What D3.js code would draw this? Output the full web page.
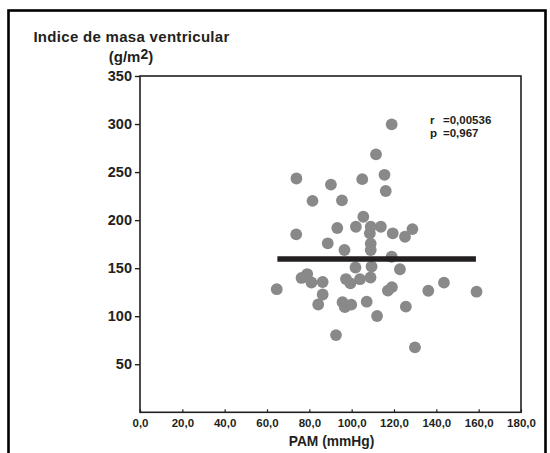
<!DOCTYPE html>
<html>
<head>
<meta charset="utf-8">
<script src="https://cdn.jsdelivr.net/npm/d3@7"></script>
<style>
	html, body { margin: 0; padding: 0; background: #fff; }
	svg { display: block; font-family: 'Liberation Sans', Arial, sans-serif; }
	.axis text { font-family: 'Liberation Sans', Arial, sans-serif; font-weight: bold; fill: #231f20; }
	.axis line, .axis path { stroke: #231f20; }
</style>
</head>
<body>
<div id="chart"></div>
<script>

// ----------------------------------
// data
// ----------------------------------

// PAM (mmHg), one value per patient
const pam = [
	118.9, 111.5, 73.9, 90.2, 105.0, 115.5, 116.1, 81.5, 95.4, 105.5,
	73.8, 93.2, 102.0, 109.0, 113.8, 108.6, 119.4, 125.2, 128.7, 88.7,
	96.6, 109.0, 109.0, 118.9, 101.8, 109.4, 122.8, 108.9, 86.3, 97.3,
	99.4, 103.9, 117.1, 119.0, 136.2, 143.6, 159.0, 64.6, 76.3, 79.0,
	81.0, 86.3, 84.2, 95.7, 96.8, 99.8, 107.1, 125.6, 112.0, 92.6,
	129.9
];

// Indice de masa ventricular (g/m2), same order as pam
const imv = [
	299.7, 268.5, 243.3, 237.0, 242.6, 247.2, 230.3, 220.1, 220.6, 203.5,
	185.2, 191.8, 193.1, 193.1, 193.1, 186.3, 186.3, 182.7, 190.7, 175.9,
	168.9, 175.6, 168.9, 161.9, 150.7, 151.7, 148.9, 140.3, 135.6, 138.7,
	134.2, 138.5, 126.7, 130.2, 126.5, 134.9, 125.5, 128.1, 139.8, 143.9,
	135.1, 122.6, 112.2, 114.6, 109.4, 112.0, 115.1, 109.9, 100.2, 80.4,
	67.6
];

// fitted line (flat, r ~ 0)
const fitX = [64.9, 158.7];
const fitY = [159.5, 159.5];

const xTicks = [0, 20, 40, 60, 80, 100, 120, 140, 160, 180];
const yTicks = [50, 100, 150, 200, 250, 300, 350];

const statLabels = ['r', 'p'];
const statValues = ['=0,00536', '=0,967'];

// ----------------------------------
// sizes
// ----------------------------------

const width = 550,
	height = 453,
	plot = {left: 140, right: 521, top: 76, bottom: 412.3},
	ink = '#231f20';

const svg = d3.select('#chart')
	.append('svg')
	.attr('width', width)
	.attr('height', height);

// outer frame (open at the bottom, runs off the picture)
svg.append('rect')
	.attr('x', 8.5)
	.attr('y', 10.5)
	.attr('width', 537)
	.attr('height', 470)
	.style('fill', 'none')
	.style('stroke', '#000')
	.style('stroke-width', 2.6);

// ----------------------------------
// scales and axes
// ----------------------------------

const xScale = d3.scaleLinear()
	.domain([0, 180])
	.range([plot.left, plot.right]);

const yScale = d3.scaleLinear()
	.domain([0, 350])
	.range([plot.bottom, plot.top]);

const xAxis = d3.axisBottom(xScale)
	.tickValues(xTicks)
	.tickSizeInner(-3)
	.tickSizeOuter(0)
	.tickPadding(7)
	.tickFormat(d => d.toFixed(1).replace('.', ','));

const yAxis = d3.axisLeft(yScale)
	.tickValues(yTicks)
	.tickSizeInner(5)
	.tickSizeOuter(0)
	.tickPadding(3)
	.tickFormat(d3.format('d'));

// plot box
svg.append('rect')
	.attr('x', plot.left)
	.attr('y', plot.top)
	.attr('width', plot.right - plot.left)
	.attr('height', plot.bottom - plot.top)
	.style('fill', 'none')
	.style('stroke', ink)
	.style('stroke-width', 1.6);

const gx = svg.append('g')
	.attr('class', 'x axis')
	.attr('transform', `translate(0,${plot.bottom})`)
	.call(xAxis);
gx.select('.domain').remove();
gx.selectAll('text').style('font-size', '11.5px');
gx.selectAll('line').style('stroke-width', 1.2);

const gy = svg.append('g')
	.attr('class', 'y axis')
	.attr('transform', `translate(${plot.left},0)`)
	.call(yAxis);
gy.select('.domain').remove();
gy.selectAll('text').style('font-size', '14.5px');
gy.selectAll('line').style('stroke-width', 1.4);

// ----------------------------------
// points and fitted line
// ----------------------------------

svg.append('g')
	.attr('class', 'dots')
	.selectAll('circle')
	.data(pam.map((d, i) => ({x: d, y: imv[i]})))
	.enter()
	.append('circle')
	.attr('cx', d => xScale(d.x))
	.attr('cy', d => yScale(d.y))
	.attr('r', 5.9)
	.style('fill', '#898989');

const fitLine = d3.line()
	.x(d => xScale(d[0]))
	.y(d => yScale(d[1]));

svg.append('path')
	.attr('class', 'fit-line')
	.datum(fitX.map((d, i) => [d, fitY[i]]))
	.attr('d', fitLine)
	.style('fill', 'none')
	.style('stroke', ink)
	.style('stroke-width', 5.5);

// ----------------------------------
// labels
// ----------------------------------

const labels = svg.append('g')
	.classed('labels', true)
	.style('font-weight', 'bold')
	.style('fill', ink);

labels.append('text')
	.text('Indice de masa ventricular')
	.attr('x', 131.5)
	.attr('y', 41.5)
	.attr('text-anchor', 'middle')
	.style('font-size', '15px')
	.style('letter-spacing', '0.3px');

const unit = labels.append('text')
	.attr('x', 131)
	.attr('y', 61.5)
	.attr('text-anchor', 'middle')
	.style('font-size', '15px');
unit.append('tspan').text('(g/m');
unit.append('tspan').text('2').attr('dy', -3).style('font-size', '14px');
unit.append('tspan').text(')').attr('dy', 3);

labels.append('text')
	.text('PAM (mmHg)')
	.attr('x', 331.5)
	.attr('y', 446)
	.attr('text-anchor', 'middle')
	.style('font-size', '13.8px');

// r and p in the top right corner
statLabels.forEach((s, i) => {
	labels.append('text')
		.text(s)
		.attr('x', 430)
		.attr('y', 124 + i * 13.3)
		.style('font-size', '11.5px');
	labels.append('text')
		.text(statValues[i])
		.attr('x', 443)
		.attr('y', 124 + i * 13.3)
		.style('font-size', '11.5px');
});

</script>
</body>
</html>
